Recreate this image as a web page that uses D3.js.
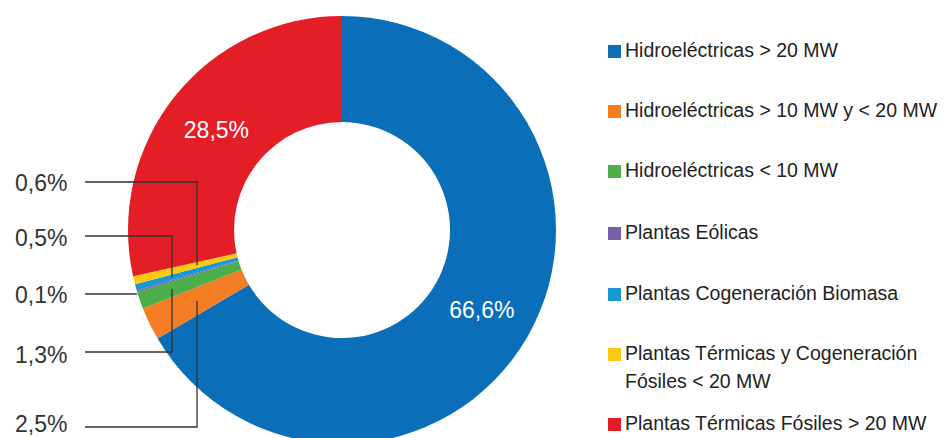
<!DOCTYPE html>
<html>
<head>
<meta charset="utf-8">
<script src="https://cdn.jsdelivr.net/npm/d3@7"></script>
<style>
  html, body { margin: 0; padding: 0; background: #fff; }
  svg { display: block; font-family: "Liberation Sans", Arial, sans-serif; }
</style>
</head>
<body>
<div id="chart"></div>
<script>
// data, in legend order (also the clockwise order of the slices from 12 o'clock)
const categories = [
  "Hidroeléctricas > 20 MW",
  "Hidroeléctricas > 10 MW y < 20 MW",
  "Hidroeléctricas < 10 MW",
  "Plantas Eólicas",
  "Plantas Cogeneración Biomasa",
  "Plantas Térmicas y Cogeneración|Fósiles < 20 MW",
  "Plantas Térmicas Fósiles > 20 MW"
];
const values = [66.6, 2.5, 1.3, 0.1, 0.5, 0.6, 28.5];
const labels = ["66,6%", "2,5%", "1,3%", "0,1%", "0,5%", "0,6%", "28,5%"];
const colors = ["#0a6eb8", "#f27d22", "#4cae4b", "#7b5fa6", "#1b96d6", "#fbc812", "#e41e27"];

// which slices get a label inside, which get a callout on the left
const insideIdx = [0, 6];
// callout layout: slice index, line y, text y, x of the elbow (null = straight to the rim)
const callouts = [
  { i: 5, y: 182, ty: 183, elbow: 197 },
  { i: 4, y: 236, ty: 238, elbow: 172 },
  { i: 3, y: 294, ty: 295, elbow: null },
  { i: 2, y: 352, ty: 355, elbow: 172 },
  { i: 1, y: 427, ty: 424, elbow: 197 }
];

const W = 946, H = 438;
const cx = 342, cy = 230, R = 214, r = 108;

const svg = d3.select("#chart").append("svg")
  .attr("width", W).attr("height", H);

const pie = d3.pie().sort(null).value(d => d)(values);
const arc = d3.arc().innerRadius(r).outerRadius(R);
const labelArc = d3.arc().innerRadius(161).outerRadius(161);

const g = svg.append("g").attr("transform", `translate(${cx},${cy})`);

g.selectAll("path.slice")
  .data(pie)
  .join("path")
  .attr("class", "slice")
  .attr("d", arc)
  .attr("fill", (d, i) => colors[i]);

// leader lines
const mid = d => (d.startAngle + d.endAngle) / 2;
const lineX0 = 85;
callouts.forEach(c => {
  const d = pie[c.i];
  const a = mid(d);
  const sx = Math.sin(a), sy = -Math.cos(a);
  let pts;
  if (c.elbow == null) {
    pts = [[lineX0, c.y], [cx + sx * R, c.y]];
  } else {
    const rad = (c.elbow - cx) / sx;
    pts = [[lineX0, c.y], [c.elbow, c.y], [c.elbow, cy + sy * rad]];
  }
  svg.append("path")
    .attr("d", d3.line()(pts))
    .attr("fill", "none")
    .attr("stroke", "#333")
    .attr("stroke-width", 1.3);
  svg.append("text")
    .attr("x", 15).attr("y", c.ty)
    .attr("dy", "0.36em")
    .attr("font-size", 23)
    .attr("fill", "#333")
    .text(labels[c.i]);
});

// inside labels
g.selectAll("text.inside")
  .data(insideIdx)
  .join("text")
  .attr("class", "inside")
  .attr("transform", i => `translate(${labelArc.centroid(pie[i])})`)
  .attr("text-anchor", "middle")
  .attr("dy", "0.36em")
  .attr("font-size", 23)
  .attr("fill", "#fff")
  .text(i => labels[i]);

// legend
const legendY = [50, 110, 170, 232, 293, 353, 423];
const lg = svg.append("g").attr("transform", "translate(608,0)");
categories.forEach((name, i) => {
  const row = lg.append("g").attr("transform", `translate(0,${legendY[i]})`);
  row.append("rect")
    .attr("x", 0).attr("y", -5)
    .attr("width", 13).attr("height", 13)
    .attr("fill", colors[i]);
  name.split("|").forEach((line, k) => {
    row.append("text")
      .attr("x", 17).attr("y", k * 28)
      .attr("dy", "0.36em")
      .attr("font-size", 19.5)
      .attr("fill", "#222")
      .text(line);
  });
});
</script>
</body>
</html>
